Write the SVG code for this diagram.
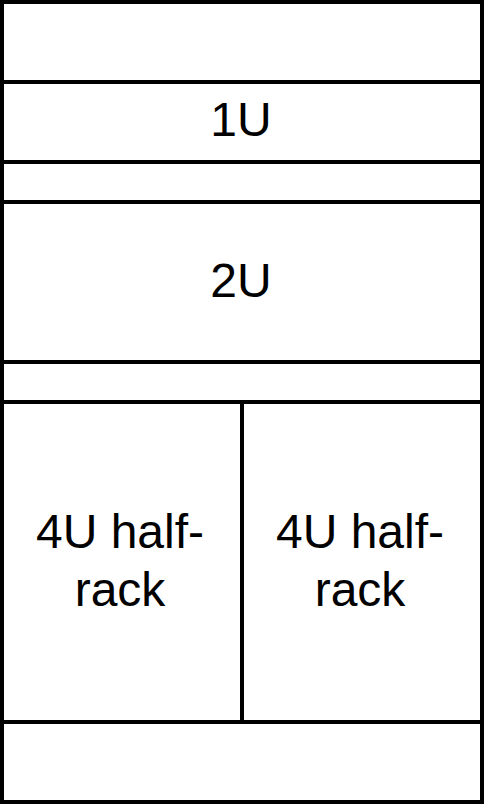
<svg xmlns="http://www.w3.org/2000/svg" width="484" height="804" viewBox="0 0 484 804">
<style>
.box{fill:#ffffff;stroke:#000000;stroke-width:4}
.t{font-family:"Liberation Sans",Arial,sans-serif;font-size:48px;fill:#000000;text-anchor:middle}
</style>
<rect x="0" y="0" width="484" height="804" fill="#ffffff"/>
<g id="slot-top"><rect class="box" x="2" y="2" width="480" height="80"/></g>
<g id="slot-1u"><rect class="box" x="2" y="82" width="480" height="80"/><text class="t" x="241" y="136">1U</text></g>
<g id="gap-1"><rect class="box" x="2" y="162" width="480" height="40"/></g>
<g id="slot-2u"><rect class="box" x="2" y="202" width="480" height="160"/><text class="t" x="241" y="297">2U</text></g>
<g id="gap-2"><rect class="box" x="2" y="362" width="480" height="40"/></g>
<g id="slot-4u-left"><rect class="box" x="2" y="402" width="240" height="320"/><text class="t" x="120" y="548">4U half-</text><text class="t" x="120" y="606">rack</text></g>
<g id="slot-4u-right"><rect class="box" x="242" y="402" width="240" height="320"/><text class="t" x="360" y="548">4U half-</text><text class="t" x="360" y="606">rack</text></g>
<g id="slot-bottom"><rect class="box" x="2" y="722" width="480" height="80"/></g>
<g id="connectors"></g>
</svg>
